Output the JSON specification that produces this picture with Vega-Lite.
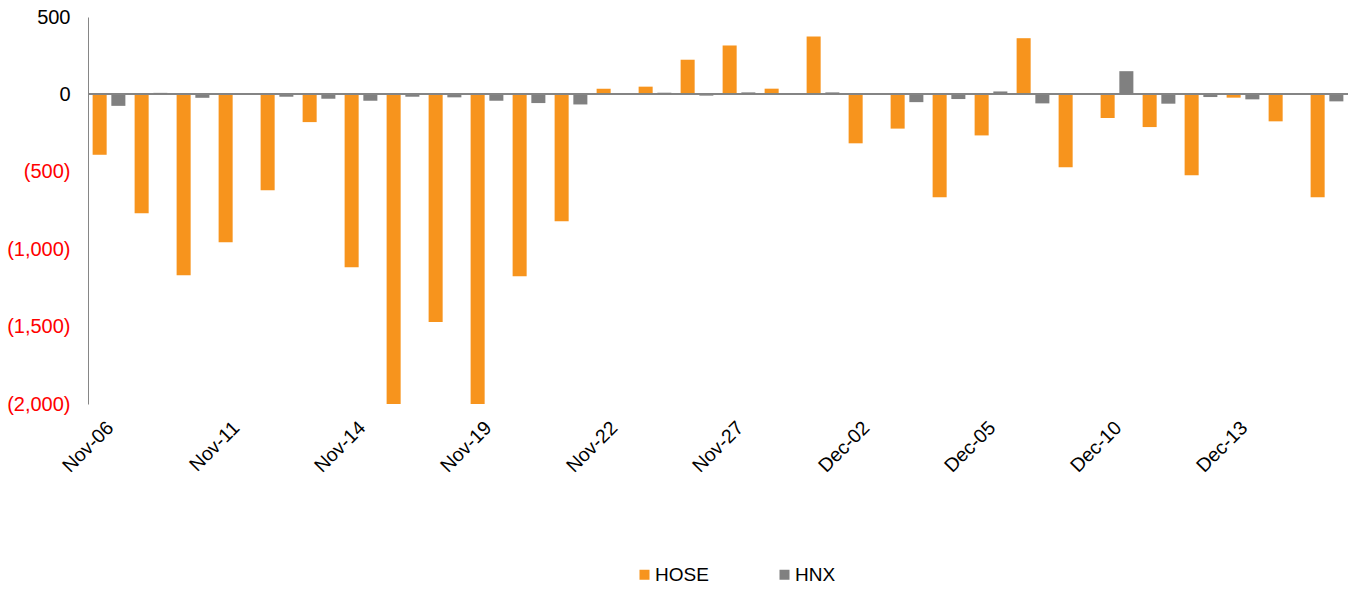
{
  "$schema": "https://vega.github.io/schema/vega-lite/v6.json",
  "width": 1260,
  "height": 387,
  "autosize": {"type": "none"},
  "padding": {"left": 88, "top": 17, "right": 4, "bottom": 186},
  "background": "white",
  "config": {
    "view": {"stroke": null},
    "font": "Liberation Sans",
    "axis": {"labelFont": "Liberation Sans", "grid": false}
  },
  "data": {
    "values": [
      {"date": "Nov-06", "series": "HOSE", "value": -390}, {"date": "Nov-06", "series": "HNX", "value": -74},
      {"date": "Nov-07", "series": "HOSE", "value": -768}, {"date": "Nov-07", "series": "HNX", "value": 10},
      {"date": "Nov-08", "series": "HOSE", "value": -1168}, {"date": "Nov-08", "series": "HNX", "value": -22},
      {"date": "Nov-11", "series": "HOSE", "value": -955}, {"date": "Nov-11", "series": "HNX", "value": -2},
      {"date": "Nov-12", "series": "HOSE", "value": -619}, {"date": "Nov-12", "series": "HNX", "value": -15},
      {"date": "Nov-13", "series": "HOSE", "value": -179}, {"date": "Nov-13", "series": "HNX", "value": -28},
      {"date": "Nov-14", "series": "HOSE", "value": -1116}, {"date": "Nov-14", "series": "HNX", "value": -41},
      {"date": "Nov-15", "series": "HOSE", "value": -2100}, {"date": "Nov-15", "series": "HNX", "value": -15},
      {"date": "Nov-18", "series": "HOSE", "value": -1471}, {"date": "Nov-18", "series": "HNX", "value": -19},
      {"date": "Nov-19", "series": "HOSE", "value": -2100}, {"date": "Nov-19", "series": "HNX", "value": -41},
      {"date": "Nov-20", "series": "HOSE", "value": -1174}, {"date": "Nov-20", "series": "HNX", "value": -56},
      {"date": "Nov-21", "series": "HOSE", "value": -819}, {"date": "Nov-21", "series": "HNX", "value": -65},
      {"date": "Nov-22", "series": "HOSE", "value": 37}, {"date": "Nov-22", "series": "HNX", "value": 3},
      {"date": "Nov-25", "series": "HOSE", "value": 50}, {"date": "Nov-25", "series": "HNX", "value": 11},
      {"date": "Nov-26", "series": "HOSE", "value": 224}, {"date": "Nov-26", "series": "HNX", "value": -8},
      {"date": "Nov-27", "series": "HOSE", "value": 316}, {"date": "Nov-27", "series": "HNX", "value": 13},
      {"date": "Nov-28", "series": "HOSE", "value": 37}, {"date": "Nov-28", "series": "HNX", "value": -2},
      {"date": "Nov-29", "series": "HOSE", "value": 374}, {"date": "Nov-29", "series": "HNX", "value": 13},
      {"date": "Dec-02", "series": "HOSE", "value": -316}, {"date": "Dec-02", "series": "HNX", "value": -2},
      {"date": "Dec-03", "series": "HOSE", "value": -221}, {"date": "Dec-03", "series": "HNX", "value": -50},
      {"date": "Dec-04", "series": "HOSE", "value": -665}, {"date": "Dec-04", "series": "HNX", "value": -30},
      {"date": "Dec-05", "series": "HOSE", "value": -265}, {"date": "Dec-05", "series": "HNX", "value": 19},
      {"date": "Dec-06", "series": "HOSE", "value": 363}, {"date": "Dec-06", "series": "HNX", "value": -58},
      {"date": "Dec-09", "series": "HOSE", "value": -471}, {"date": "Dec-09", "series": "HNX", "value": -2},
      {"date": "Dec-10", "series": "HOSE", "value": -153}, {"date": "Dec-10", "series": "HNX", "value": 150},
      {"date": "Dec-11", "series": "HOSE", "value": -211}, {"date": "Dec-11", "series": "HNX", "value": -60},
      {"date": "Dec-12", "series": "HOSE", "value": -523}, {"date": "Dec-12", "series": "HNX", "value": -17},
      {"date": "Dec-13", "series": "HOSE", "value": -21}, {"date": "Dec-13", "series": "HNX", "value": -32},
      {"date": "Dec-16", "series": "HOSE", "value": -174}, {"date": "Dec-16", "series": "HNX", "value": -2},
      {"date": "Dec-17", "series": "HOSE", "value": -665}, {"date": "Dec-17", "series": "HNX", "value": -45}
    ]
  },
  "layer": [
    {
      "mark": {"type": "bar", "clip": true},
      "encoding": {
        "x": {
          "field": "date", "type": "nominal", "sort": null,
          "scale": {"paddingInner": 0.22, "paddingOuter": 0.11},
          "axis": {
            "title": null, "labelAngle": -45, "domain": false, "ticks": false, "tickSize": 0,
            "labelPadding": 14, "labelOffset": -5, "labelColor": "#000000", "labelFontSize": 19.5,
            "values": ["Nov-06", "Nov-11", "Nov-14", "Nov-19", "Nov-22", "Nov-27", "Dec-02", "Dec-05", "Dec-10", "Dec-13"]
          }
        },
        "xOffset": {"field": "series", "type": "nominal", "sort": ["HOSE", "HNX"], "scale": {"paddingInner": 0.25, "paddingOuter": 0}},
        "y": {
          "field": "value", "type": "quantitative",
          "scale": {"domain": [-2000, 500], "nice": false, "zero": false},
          "axis": {
            "title": null, "values": [-2000, -1500, -1000, -500, 0, 500],
            "ticks": false, "tickSize": 0, "labelFontSize": 20, "labelPadding": 18,
            "domainColor": "#868686", "domainWidth": 1,
            "labelExpr": "datum.value < 0 ? '(' + format(-datum.value, ',') + ')' : format(datum.value, ',')",
            "labelColor": {"condition": {"test": "datum.value < 0", "value": "#FF0000"}, "value": "#000000"},
            "encode": {"labels": {"dx": {"signal": "datum.value < 0 ? 0 : -7"}}}
          }
        },
        "color": {
          "field": "series", "type": "nominal", "sort": ["HOSE", "HNX"],
          "scale": {"domain": ["HOSE", "HNX"], "range": ["#F7941D", "#808080"]},
          "legend": {
            "title": null, "orient": "none", "direction": "horizontal",
            "legendX": 547, "legendY": 548,
            "symbolType": "square", "symbolSize": 100, "symbolStrokeWidth": 0,
            "labelFont": "Liberation Sans", "labelFontSize": 19, "labelColor": "#000000",
            "labelOffset": 1, "columnPadding": 66
          }
        }
      }
    },
    {
      "mark": {"type": "rule", "color": "#868686", "strokeWidth": 1},
      "encoding": {"y": {"datum": 0}}
    }
  ]
}
